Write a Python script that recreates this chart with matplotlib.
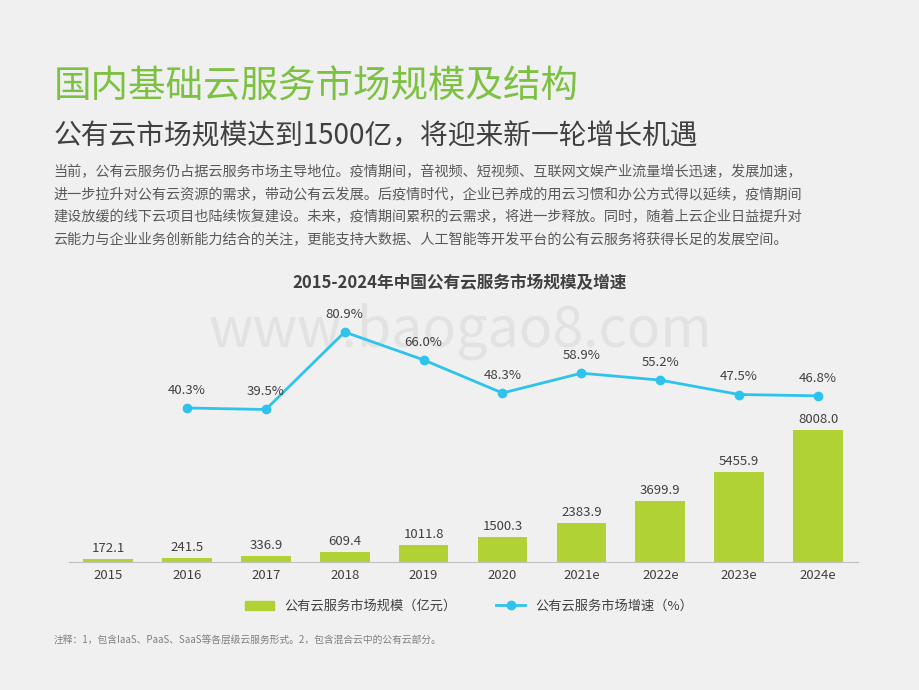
import matplotlib
matplotlib.use("Agg")
import matplotlib.pyplot as plt
from matplotlib.lines import Line2D
from matplotlib.patches import Patch

plt.rcParams['font.family'] = ['Noto Sans CJK SC', 'DejaVu Sans']

years = ["2015", "2016", "2017", "2018", "2019", "2020", "2021e", "2022e", "2023e", "2024e"]
market_size = [172.1, 241.5, 336.9, 609.4, 1011.8, 1500.3, 2383.9, 3699.9, 5455.9, 8008.0]
growth_years = years[1:]
growth_rate = [40.3, 39.5, 80.9, 66.0, 48.3, 58.9, 55.2, 47.5, 46.8]

BG = "#f0f0f0"
GREEN = "#b1d235"
BLUE = "#2ec3ec"

fig = plt.figure(figsize=(9.2, 6.9), dpi=100, facecolor=BG)

fig.text(0.5, 0.52, "www.baogao8.com", fontsize=40, color="#e2e2e2", ha="center", va="center", zorder=-5)
fig.text(0.058, 0.858, "国内基础云服务市场规模及结构", fontsize=27, color="#7dc142")
fig.text(0.058, 0.79, "公有云市场规模达到1500亿，将迎来新一轮增长机遇", fontsize=20, color="#404040")
body = ("当前，公有云服务仍占据云服务市场主导地位。疫情期间，音视频、短视频、互联网文娱产业流量增长迅速，发展加速，\n"
        "进一步拉升对公有云资源的需求，带动公有云发展。后疫情时代，企业已养成的用云习惯和办公方式得以延续，疫情期间\n"
        "建设放缓的线下云项目也陆续恢复建设。未来，疫情期间累积的云需求，将进一步释放。同时，随着上云企业日益提升对\n"
        "云能力与企业业务创新能力结合的关注，更能支持大数据、人工智能等开发平台的公有云服务将获得长足的发展空间。")
fig.text(0.058, 0.642, body, fontsize=10.2, color="#595959", linespacing=1.75, va="bottom")
fig.text(0.5, 0.582, "2015-2024年中国公有云服务市场规模及增速", fontsize=12, color="#404040",
         ha="center", fontweight="bold", style="italic")

ax = fig.add_axes([0.0745, 0.1855, 0.8576, 0.3797])
ax.set_facecolor("none")
x = list(range(len(years)))
ax.bar(x, market_size, width=0.63, color=GREEN, zorder=2)
for xi, v in zip(x, market_size):
    ax.text(xi, v + 250, f"{v:.1f}", ha="center", va="bottom", fontsize=9.5, color="#404040")
ax.set_xlim(-0.5, len(years) - 0.5)
ax.set_ylim(0, 15900)
ax.set_xticks(x)
ax.set_xticklabels(years, fontsize=9.5, color="#404040")
ax.tick_params(axis="x", length=0, pad=5)
ax.set_yticks([])
for s in ["top", "right", "left"]:
    ax.spines[s].set_visible(False)
ax.spines["bottom"].set_color("#bfbfbf")

ax2 = ax.twinx()
gx = [years.index(y) for y in growth_years]
ax2.plot(gx, growth_rate, color=BLUE, lw=2, marker="o", ms=6, zorder=3)
for xi, v in zip(gx, growth_rate):
    ax2.text(xi, v + 6, f"{v:.1f}%", ha="center", va="bottom", fontsize=9.5, color="#404040")
ax2.set_ylim(-42, 98)
ax2.set_yticks([])
for s in ["top", "right", "left", "bottom"]:
    ax2.spines[s].set_visible(False)

handles = [Patch(color=GREEN), Line2D([], [], color=BLUE, lw=2, marker="o", ms=6)]
fig.legend(handles, ["公有云服务市场规模（亿元）", "公有云服务市场增速（%）"], loc="center",
           bbox_to_anchor=(0.51, 0.121), ncol=2, frameon=False, fontsize=9.5,
           handlelength=2.2, columnspacing=3, labelcolor="#404040")

fig.text(0.058, 0.068, "注释：1，包含IaaS、PaaS、SaaS等各层级云服务形式。2，包含混合云中的公有云部分。",
         fontsize=7, color="#7f7f7f")

fig.savefig("out.png", dpi=100, facecolor=BG)
